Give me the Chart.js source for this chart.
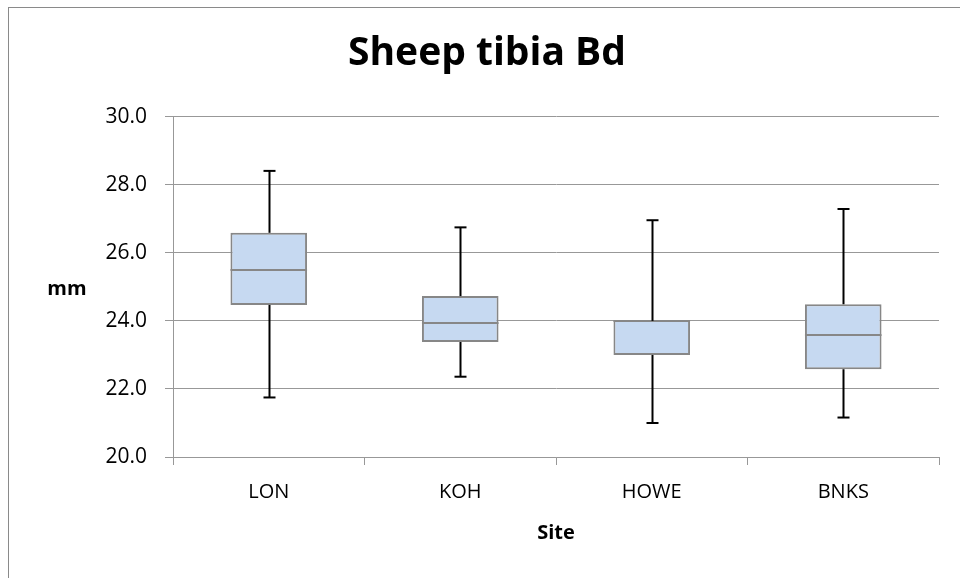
<!DOCTYPE html>
<html>
<head>
<meta charset="utf-8">
<script src="https://cdn.jsdelivr.net/npm/chart.js@4.4.1/dist/chart.umd.min.js"></script>
<style>
  html, body { margin: 0; padding: 0; background: #fff; overflow: hidden; }
  #wrap { position: relative; width: 960px; height: 578px; overflow: hidden; }
  #frame { position: absolute; left: 8px; top: 7px; width: 1000px; height: 1000px; border: 1px solid #8a8a8a; box-sizing: border-box; }
  #box { position: absolute; left: 35px; top: 0; width: 925px; height: 578px; }
</style>
</head>
<body>
<div id="wrap">
  <div id="frame"></div>
  <div id="box"><canvas id="c" width="925" height="578"></canvas></div>
</div>
<script>
// Sheep tibia Bd - box plot per site
const sites = ['LON', 'KOH', 'HOWE', 'BNKS'];
const mins    = [21.75, 22.36, 21.0, 21.16];
const q1s     = [24.47, 23.38, 23.0, 22.58];
const medians = [25.49, 23.95, 24.0, 23.6];
const q3s     = [26.59, 24.73, 24.0, 24.49];
const maxs    = [28.41, 26.75, 26.96, 27.29];
const yTicks  = [20, 22, 24, 26, 28, 30];

const FONT = "'Open Sans', 'DejaVu Sans', sans-serif";
const gridCol = '#989898';
const boxLine = '#878787';

// whiskers, caps and median lines, drawn from the data through the scales
const whiskers = {
    id: 'whiskers',
    afterDatasetsDraw(chart) {
        const ctx = chart.ctx;
        const xs = chart.scales.x, ys = chart.scales.y;
        const bars = chart.getDatasetMeta(0).data;
        ctx.save();
        ctx.lineWidth = 2;
        sites.forEach((s, i) => {
            const x = Math.round(xs.getPixelForValue(i)) + 0.5;
            const cap = 6;
            // median
            const half = bars[i].width / 2;
            const ym = Math.round(ys.getPixelForValue(medians[i]));
            ctx.strokeStyle = boxLine;
            ctx.beginPath();
            ctx.moveTo(bars[i].x - half, ym);
            ctx.lineTo(bars[i].x + half, ym);
            ctx.stroke();
            // whiskers
            ctx.strokeStyle = '#000';
            const segs = [[maxs[i], q3s[i]], [q1s[i], mins[i]]];
            segs.forEach(([a, b]) => {
                ctx.beginPath();
                ctx.moveTo(x, ys.getPixelForValue(a));
                ctx.lineTo(x, ys.getPixelForValue(b));
                ctx.stroke();
            });
            [maxs[i], mins[i]].forEach(v => {
                const y = ys.getPixelForValue(v);
                ctx.beginPath();
                ctx.moveTo(x - cap, y);
                ctx.lineTo(x + cap, y);
                ctx.stroke();
            });
        });
        ctx.restore();
    }
};

// horizontal "mm" axis label on the left
const yLabel = {
    id: 'yLabel',
    afterDraw(chart, args, opts) {
        const ctx = chart.ctx;
        const a = chart.chartArea;
        ctx.save();
        ctx.font = 'bold 20px ' + FONT;
        ctx.fillStyle = '#000';
        ctx.textAlign = 'center';
        ctx.textBaseline = 'middle';
        ctx.fillText(opts.text, 32, (a.top + a.bottom) / 2 + 2);
        ctx.restore();
    }
};

const boxStyle = {
    backgroundColor: '#c6d9f1',
    borderColor: boxLine,
    borderSkipped: false,
    grouped: false,
    barPercentage: 0.4,
    categoryPercentage: 1.0
};

new Chart(document.getElementById('c'), {
    type: 'bar',
    data: {
        labels: sites,
        datasets: [
            Object.assign({
                label: 'lower',
                data: sites.map((s, i) => [q1s[i], medians[i]]),
                borderWidth: { top: 0, bottom: 2, left: 2, right: 2 }
            }, boxStyle),
            Object.assign({
                label: 'upper',
                data: sites.map((s, i) => [medians[i], q3s[i]]),
                borderWidth: { top: 2, bottom: 0, left: 2, right: 2 }
            }, boxStyle)
        ]
    },
    options: {
        responsive: false,
        animation: false,
        devicePixelRatio: 1,
        layout: { padding: { left: 0, right: 21, top: 0, bottom: 0 } },
        plugins: {
            legend: { display: false },
            tooltip: { enabled: false },
            title: {
                display: true,
                text: 'Sheep tibia Bd',
                color: '#000',
                font: { family: FONT, size: 39, weight: 'bold', lineHeight: 1.2 },
                padding: { top: 30, bottom: 40 }
            },
            yLabel: { text: 'mm' }
        },
        scales: {
            x: {
                afterFit: s => { s.height = 121; },
                grid: { display: true, drawOnChartArea: false, drawTicks: true, tickLength: 8, color: gridCol, offset: true },
                border: { display: true, color: gridCol, width: 1 },
                ticks: { color: '#000', padding: 15, font: { family: FONT, size: 20 } },
                title: {
                    display: true, text: 'Site', color: '#000',
                    font: { family: FONT, size: 20, weight: 'bold' },
                    padding: { top: 0, bottom: 33 }
                }
            },
            y: {
                min: 20, max: 30,
                afterFit: s => { s.width = 138; },
                afterBuildTicks: s => { s.ticks = yTicks.map(v => ({ value: v })); },
                grid: { color: gridCol, lineWidth: 1, tickLength: 8, drawTicks: true },
                border: { display: true, color: gridCol, width: 1 },
                ticks: {
                    color: '#000', padding: 18,
                    font: { family: FONT, size: 21 },
                    callback: v => Number(v).toFixed(1)
                }
            }
        }
    },
    plugins: [whiskers, yLabel]
});
</script>
</body>
</html>
